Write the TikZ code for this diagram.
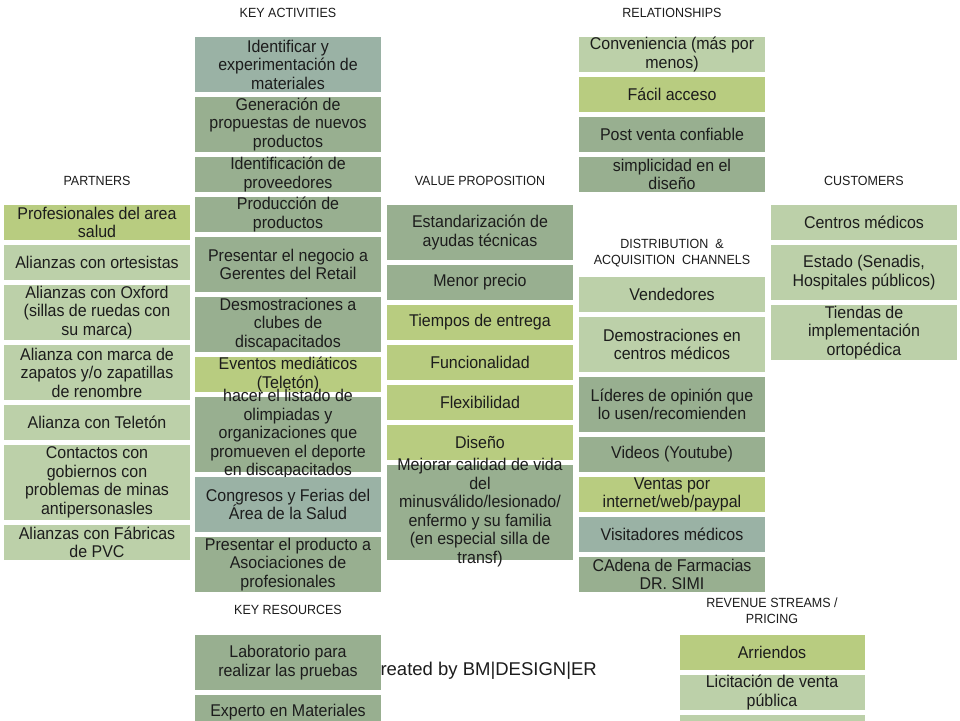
\documentclass[tikz,border=0pt]{standalone}
\usepackage{fontspec}
\setmainfont{Liberation Sans}[FakeStretch=0.94]
\newfontfamily\creditfont{Liberation Sans}
\usepackage{tikz}

\definecolor{cellYG}{HTML}{B8CC80}
\definecolor{cellLt}{HTML}{BCD0A9}
\definecolor{cellDk}{HTML}{98AF90}
\definecolor{cellTl}{HTML}{9AB2A5}
\definecolor{inkGray}{HTML}{1C1C1C}

\begin{document}
\begin{tikzpicture}[x=1pt, y=-1pt,
	cell/.style={rectangle, inner sep=0pt, minimum width=186pt},
	celltext/.style={inner sep=0pt, align=center, text=inkGray, font=\fontsize{17}{18.5}\selectfont},
	heading/.style={inner sep=0pt, align=center, text=inkGray, font=\fontsize{13.3}{16}\selectfont}]
	\useasboundingbox (0,0) rectangle (960,720);
	\clip (0,0) rectangle (960,720);
	\fill[white] (0,0) rectangle (960,720);

	% headings
	\node[heading] (hKA) at (288,13) {KEY ACTIVITIES};
	\node[heading] (hRE) at (672,13) {RELATIONSHIPS};
	\node[heading] (hPA) at (97,181) {PARTNERS};
	\node[heading] (hVP) at (480,181) {VALUE PROPOSITION};
	\node[heading] (hCU) at (864,181) {CUSTOMERS};
	\node[heading] (hCH) at (672,253) {DISTRIBUTION \ \&\\ACQUISITION \ CHANNELS};
	\node[heading] (hKR) at (288,610) {KEY RESOURCES};
	\node[heading] (hRV) at (772,611) {REVENUE STREAMS /\\PRICING};

	\node[inner sep=0pt, anchor=east, text=inkGray, font=\creditfont\fontsize{18.5}{20}\selectfont] (credit) at (597,671) {Created by BM|DESIGN|ER};

	% partners
	\node[cell, fill=cellYG, minimum height=35pt, label={[celltext]center:{Profesionales del area\\salud}}] (pa1) at (97,222.5) {};
	\node[cell, fill=cellLt, minimum height=35pt, label={[celltext]center:{Alianzas con ortesistas}}] (pa2) at (97,262.5) {};
	\node[cell, fill=cellLt, minimum height=55pt, label={[celltext]center:{Alianzas con Oxford\\(sillas de ruedas con\\su marca)}}] (pa3) at (97,312.5) {};
	\node[cell, fill=cellLt, minimum height=55pt, label={[celltext]center:{Alianza con marca de\\zapatos y/o zapatillas\\de renombre}}] (pa4) at (97,372.5) {};
	\node[cell, fill=cellLt, minimum height=35pt, label={[celltext]center:{Alianza con Teletón}}] (pa5) at (97,422.5) {};
	\node[cell, fill=cellLt, minimum height=75pt, label={[celltext]center:{Contactos con\\gobiernos con\\problemas de minas\\antipersonasles}}] (pa6) at (97,482.5) {};
	\node[cell, fill=cellLt, minimum height=35pt, label={[celltext]center:{Alianzas con Fábricas\\de PVC}}] (pa7) at (97,542.5) {};

	% key activities
	\node[cell, fill=cellTl, minimum height=55pt, label={[celltext]center:{Identificar y\\experimentación de\\materiales}}] (ka1) at (288,64.5) {};
	\node[cell, fill=cellDk, minimum height=55pt, label={[celltext]center:{Generación de\\propuestas de nuevos\\productos}}] (ka2) at (288,124.5) {};
	\node[cell, fill=cellDk, minimum height=35pt, label={[celltext]center:{Identificación de\\proveedores}}] (ka3) at (288,174.5) {};
	\node[cell, fill=cellDk, minimum height=35pt, label={[celltext]center:{Producción de\\productos}}] (ka4) at (288,214.5) {};
	\node[cell, fill=cellDk, minimum height=55pt, label={[celltext]center:{Presentar el negocio a\\Gerentes del Retail}}] (ka5) at (288,264.5) {};
	\node[cell, fill=cellDk, minimum height=55pt, label={[celltext]center:{Desmostraciones a\\clubes de\\discapacitados}}] (ka6) at (288,324.5) {};
	\node[cell, fill=cellYG, minimum height=35pt, label={[celltext]center:{Eventos mediáticos\\(Teletón)}}] (ka7) at (288,374.5) {};
	\node[cell, fill=cellDk, minimum height=75pt, label={[celltext]center:{hacer el listado de\\olimpiadas y\\organizaciones que\\promueven el deporte\\en discapacitados}}] (ka8) at (288,434.5) {};
	\node[cell, fill=cellTl, minimum height=55pt, label={[celltext]center:{Congresos y Ferias del\\Área de la Salud}}] (ka9) at (288,504.5) {};
	\node[cell, fill=cellDk, minimum height=55pt, label={[celltext]center:{Presentar el producto a\\Asociaciones de\\profesionales}}] (ka10) at (288,564.5) {};

	% value proposition
	\node[cell, fill=cellDk, minimum height=55pt, label={[celltext]center:{Estandarización de\\ayudas técnicas}}] (vp1) at (480,232.5) {};
	\node[cell, fill=cellDk, minimum height=35pt, label={[celltext]center:{Menor precio}}] (vp2) at (480,282.5) {};
	\node[cell, fill=cellYG, minimum height=35pt, label={[celltext]center:{Tiempos de entrega}}] (vp3) at (480,322.5) {};
	\node[cell, fill=cellYG, minimum height=35pt, label={[celltext]center:{Funcionalidad}}] (vp4) at (480,362.5) {};
	\node[cell, fill=cellYG, minimum height=35pt, label={[celltext]center:{Flexibilidad}}] (vp5) at (480,402.5) {};
	\node[cell, fill=cellYG, minimum height=35pt, label={[celltext]center:{Diseño}}] (vp6) at (480,442.5) {};
	\node[cell, fill=cellDk, minimum height=95pt, label={[celltext]center:{Mejorar calidad de vida\\del\\minusválido/lesionado/\\enfermo y su familia\\(en especial silla de\\transf)}}] (vp7) at (480,512.5) {};

	% relationships
	\node[cell, fill=cellLt, minimum height=35pt, label={[celltext]center:{Conveniencia (más por\\menos)}}] (re1) at (672,54.5) {};
	\node[cell, fill=cellYG, minimum height=35pt, label={[celltext]center:{Fácil acceso}}] (re2) at (672,94.5) {};
	\node[cell, fill=cellDk, minimum height=35pt, label={[celltext]center:{Post venta confiable}}] (re3) at (672,134.5) {};
	\node[cell, fill=cellDk, minimum height=35pt, label={[celltext]center:{simplicidad en el\\diseño}}] (re4) at (672,174.5) {};

	% channels
	\node[cell, fill=cellLt, minimum height=35pt, label={[celltext]center:{Vendedores}}] (ch1) at (672,294.5) {};
	\node[cell, fill=cellLt, minimum height=55pt, label={[celltext]center:{Demostraciones en\\centros médicos}}] (ch2) at (672,344.5) {};
	\node[cell, fill=cellDk, minimum height=55pt, label={[celltext]center:{Líderes de opinión que\\lo usen/recomienden}}] (ch3) at (672,404.5) {};
	\node[cell, fill=cellDk, minimum height=35pt, label={[celltext]center:{Videos (Youtube)}}] (ch4) at (672,454.5) {};
	\node[cell, fill=cellYG, minimum height=35pt, label={[celltext]center:{Ventas por\\internet/web/paypal}}] (ch5) at (672,494.5) {};
	\node[cell, fill=cellTl, minimum height=35pt, label={[celltext]center:{Visitadores médicos}}] (ch6) at (672,534.5) {};
	\node[cell, fill=cellDk, minimum height=35pt, label={[celltext]center:{CAdena de Farmacias\\DR. SIMI}}] (ch7) at (672,574.5) {};

	% customers
	\node[cell, fill=cellLt, minimum height=35pt, label={[celltext]center:{Centros médicos}}] (cu1) at (864,222.5) {};
	\node[cell, fill=cellLt, minimum height=55pt, label={[celltext]center:{Estado (Senadis,\\Hospitales públicos)}}] (cu2) at (864,272.5) {};
	\node[cell, fill=cellLt, minimum height=55pt, label={[celltext]center:{Tiendas de\\implementación\\ortopédica}}] (cu3) at (864,332.5) {};

	% key resources
	\node[cell, fill=cellDk, minimum height=55pt, label={[celltext]center:{Laboratorio para\\realizar las pruebas}}] (kr1) at (288,662.5) {};
	\node[cell, fill=cellDk, minimum height=35pt, label={[celltext]center:{Experto en Materiales}}] (kr2) at (288,712.5) {};

	% revenue streams
	\node[cell, fill=cellYG, minimum width=185pt, minimum height=35pt, label={[celltext]center:{Arriendos}}] (rv1) at (772,652.5) {};
	\node[cell, fill=cellLt, minimum width=185pt, minimum height=35pt, label={[celltext]center:{Licitación de venta\\pública}}] (rv2) at (772,692.5) {};
	\node[cell, fill=cellLt, minimum width=185pt, minimum height=35pt] (rv3) at (772,732.5) {};
\end{tikzpicture}
\end{document}
